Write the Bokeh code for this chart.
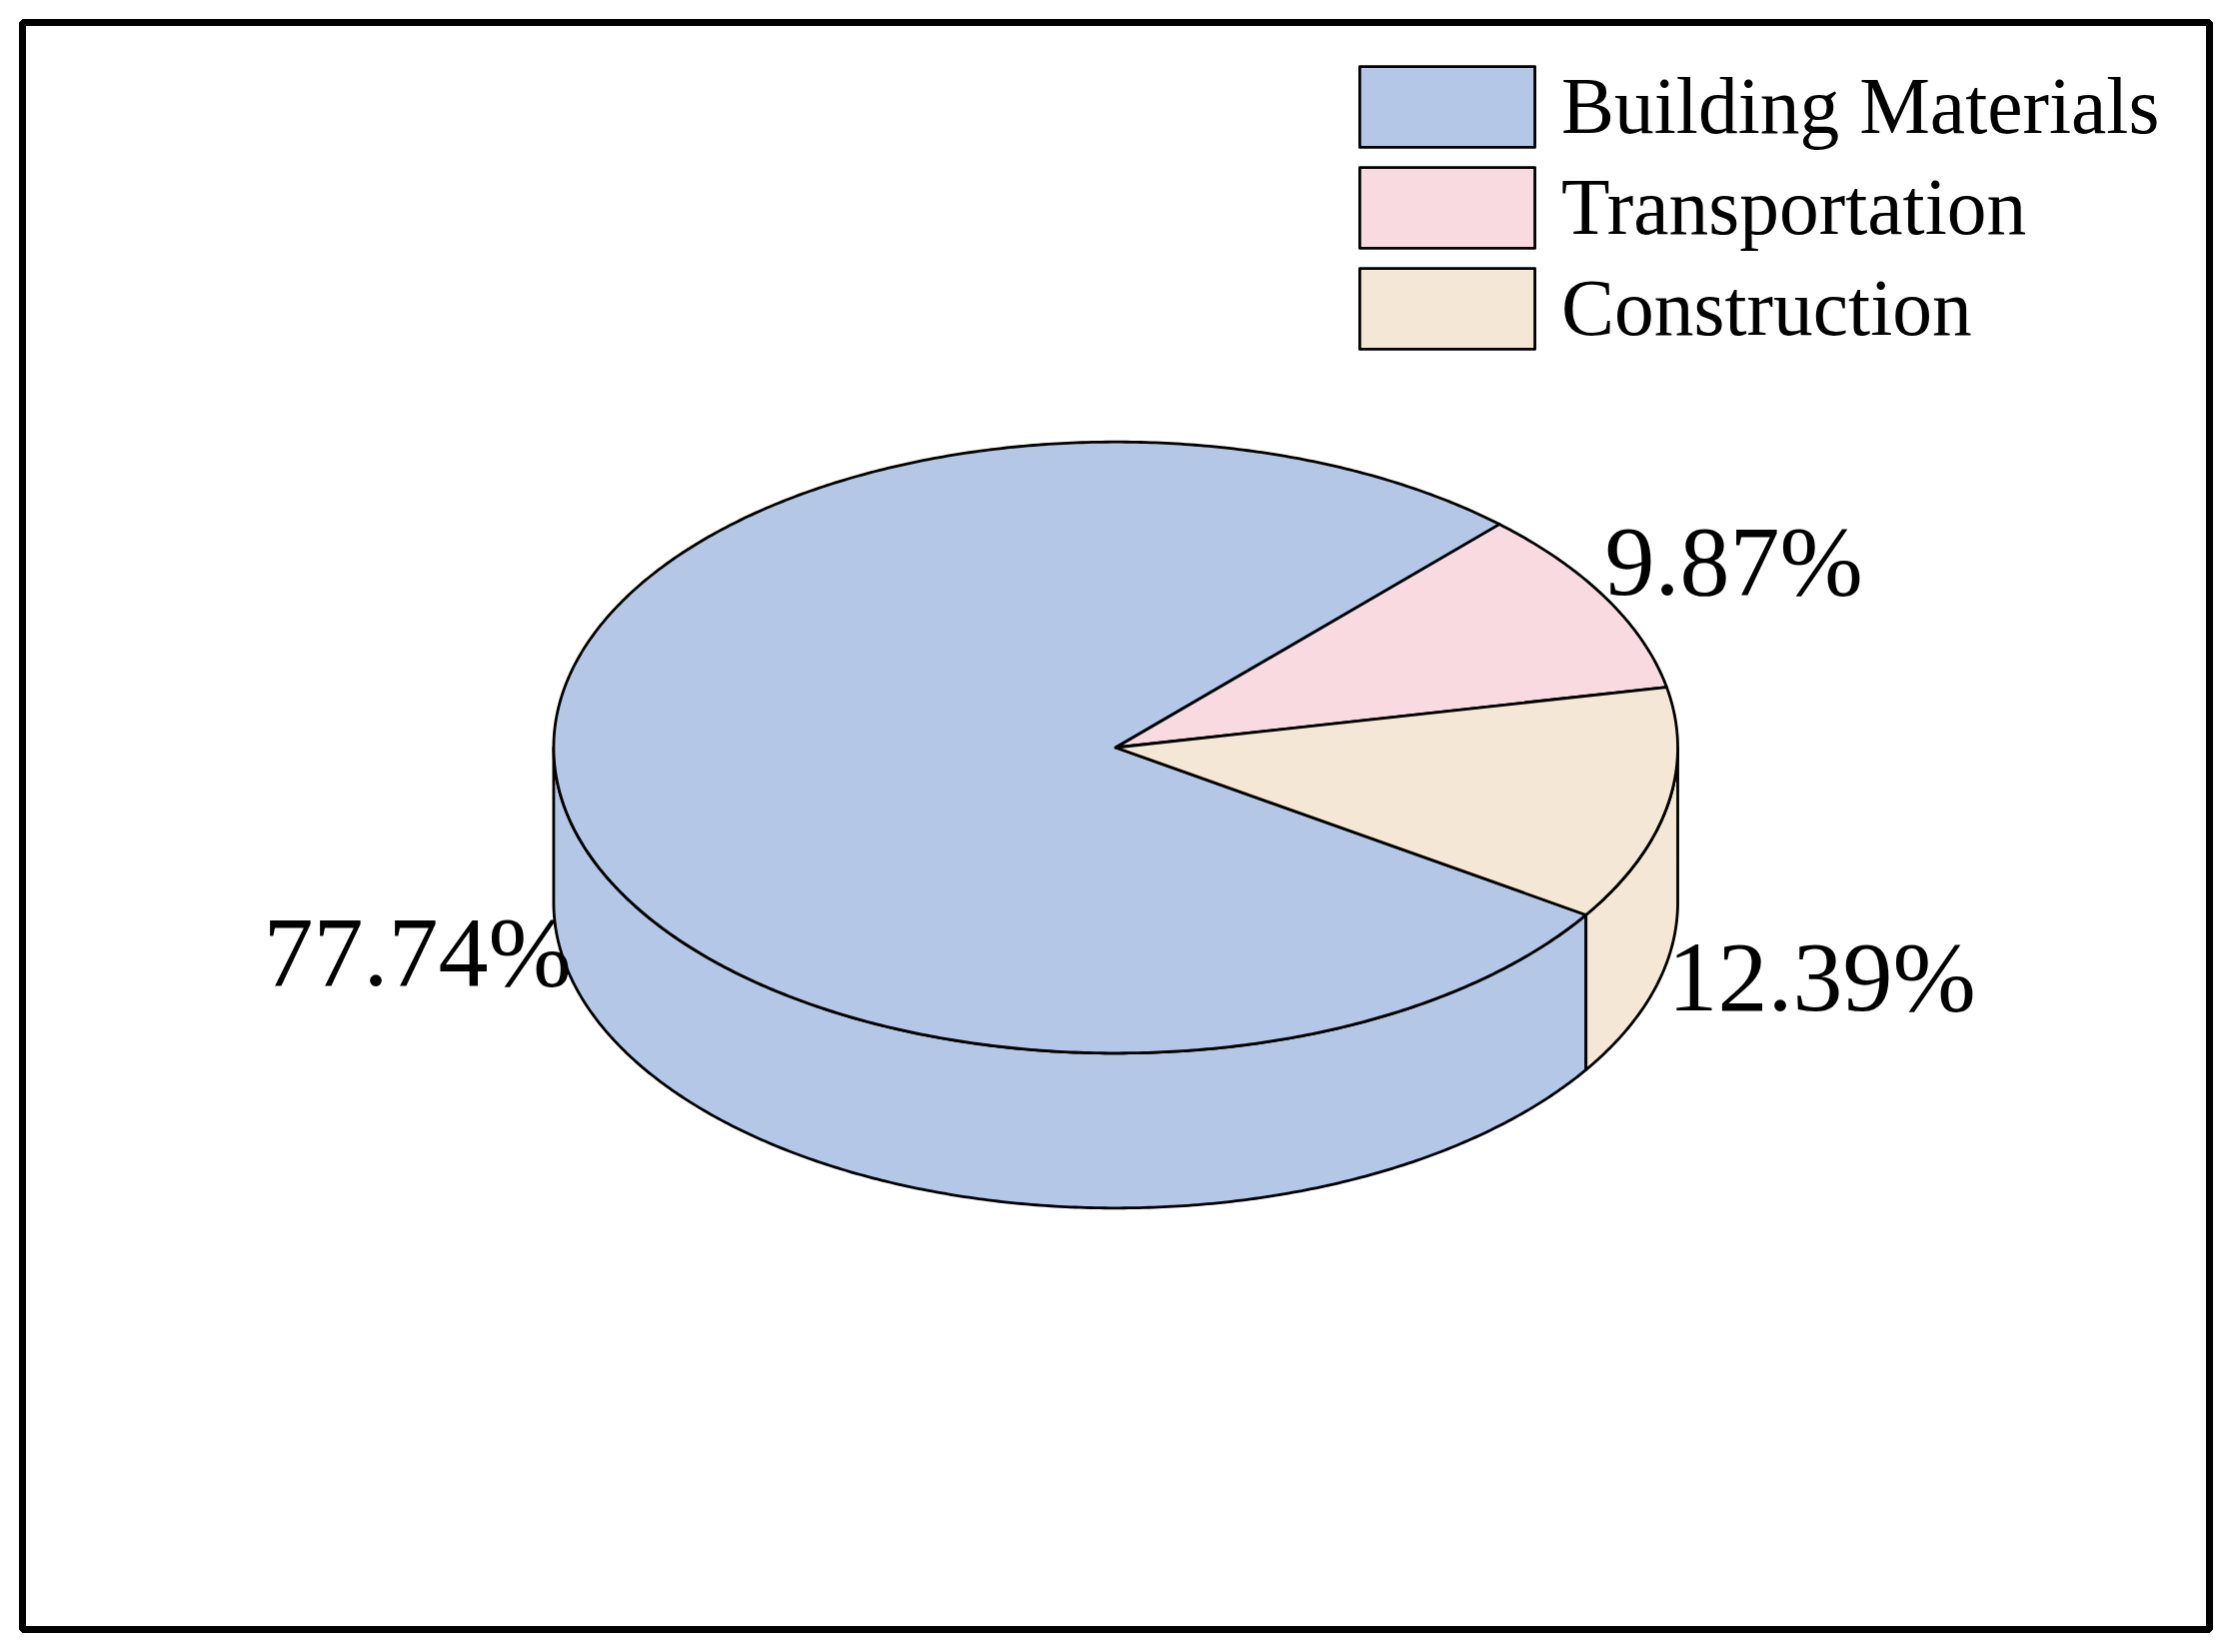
import numpy as np
from bokeh.plotting import figure
from bokeh.models import Range1d, Legend, LegendItem, ColumnDataSource
from bokeh.embed import file_html
from bokeh.resources import INLINE
from bokeh.core.properties import value

# ---- data ----
categories = ["Building Materials", "Transportation", "Construction"]
shares = [77.74, 9.87, 12.39]
labels = ["77.74%", "9.87%", "12.39%"]

# ---- style / layout ----
colors = ["#B4C7E7", "#F9DAE0", "#F5E7D5"]
FRAME_W, FRAME_H = 2188, 1608
CX, CY = 1093.7, 882.5          # pie centre (frame units)
RX, RY = 562.3, 305.8           # ellipse half axes
DEPTH = 155                     # pie thickness
START_DEG = -33.2               # slices go clockwise from here
label_x = [241, 1583, 1646]
label_y = [678, 1069, 653]
FONT = "Liberation Serif"
LW = 2.8

p = figure(width=2216, height=1636, x_range=Range1d(0, FRAME_W), y_range=Range1d(0, FRAME_H),
           output_backend="svg", toolbar_location=None, title=None,
           x_axis_location=None, y_axis_location=None,
           min_border_left=22, min_border_right=6, min_border_top=22, min_border_bottom=6)
p.grid.visible = False
p.outline_line_color = "black"
p.outline_line_width = 7
p.background_fill_color = "white"
p.border_fill_color = "white"


def arc(t0, t1, dy=0.0):
    n = max(int(abs(t1 - t0) * 2) + 2, 4)
    t = np.radians(np.linspace(t0, t1, n))
    return CX + RX * np.cos(t), CY + RY * np.sin(t) - dy


total = float(sum(shares))
spans = []
ang = START_DEG
for s in shares:
    end = ang - s / total * 360.0
    spans.append((end, ang))
    ang = end

# side walls (visible front half: sin(t) < 0)
for (lo, hi), col in zip(spans, colors):
    for k in range(-2, 3):
        b0, b1 = -180 - 360 * k, -360 * k
        s0, s1 = max(lo, b0), min(hi, b1)
        if s1 - s0 > 1e-6:
            xt, yt = arc(s0, s1)
            xb, yb = arc(s1, s0, DEPTH)
            p.patch(np.concatenate([xt, xb]), np.concatenate([yt, yb]),
                    fill_color=col, line_color="black", line_width=LW, line_join="round")

# top faces
tops = []
for (lo, hi), col in zip(spans, colors):
    xa, ya = arc(lo, hi)
    r = p.patch(np.concatenate([[CX], xa]), np.concatenate([[CY], ya]),
                fill_color=col, line_color="black", line_width=LW, line_join="round")
    tops.append(r)

# percentage labels
src = ColumnDataSource(dict(x=label_x, y=label_y, t=labels))
p.text(x="x", y="y", text="t", source=src, text_font=value(FONT), text_font_size="100px",
       text_align="left", text_baseline="alphabetic", text_color="black")

legend = Legend(items=[LegendItem(label=c, renderers=[r]) for c, r in zip(categories, tops)],
                location=(1316, 1271), orientation="vertical",
                glyph_width=219, glyph_height=101, spacing=0, padding=0, margin=0,
                label_standoff=5, label_height=20,
                label_text_font=FONT, label_text_font_size="79.5px", label_text_color="black",
                border_line_color=None, background_fill_alpha=0)
p.add_layout(legend)

open("out.html", "w").write(file_html(p, INLINE))
